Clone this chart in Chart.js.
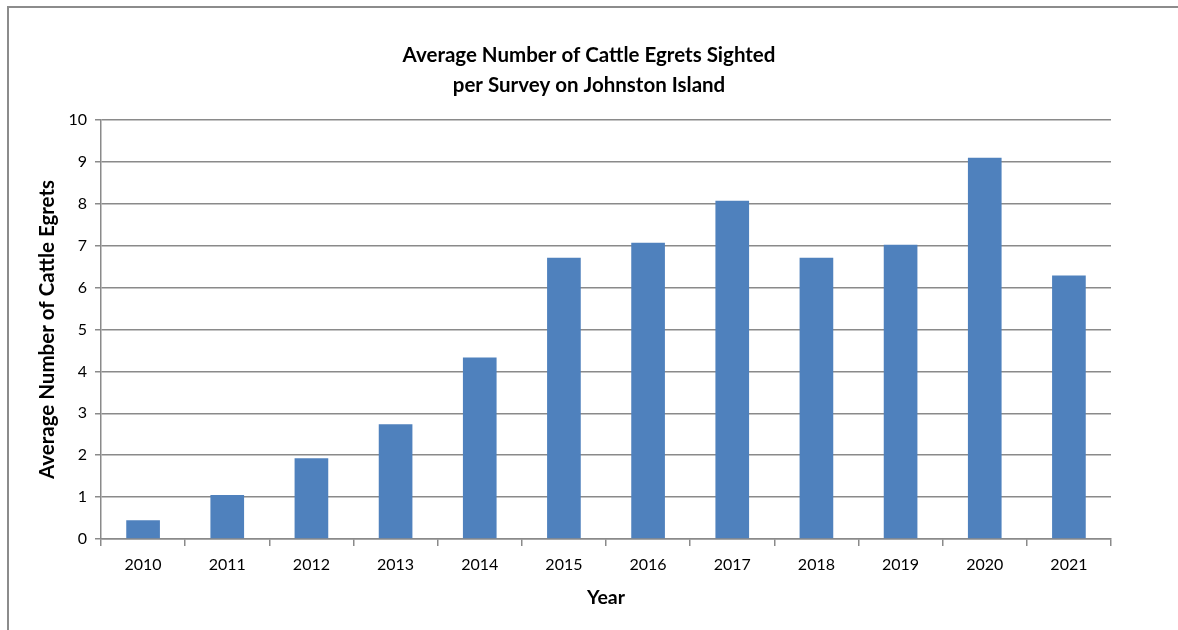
<!DOCTYPE html>
<html>
<head>
<meta charset="utf-8">
<script src="https://cdn.jsdelivr.net/npm/chart.js@4/dist/chart.umd.min.js"></script>
<style>
  html, body { margin: 0; padding: 0; background: #fff; overflow: hidden; }
  #wrap { position: relative; width: 1178px; height: 630px; }
  #frame { position: absolute; left: 7px; top: 6px; width: 1300px; height: 800px;
           border-left: 2px solid #8c8c8c; border-top: 2px solid #8c8c8c; }
  canvas { position: absolute; left: 0; top: 0; }
</style>
</head>
<body>
<div id="wrap">
  <div id="frame"></div>
  <canvas id="c" width="1178" height="630"></canvas>
</div>
<script>
const categories = ["2010","2011","2012","2013","2014","2015","2016","2017","2018","2019","2020","2021"];
const egrets = [0.45, 1.05, 1.93, 2.74, 4.33, 6.71, 7.07, 8.07, 6.71, 7.02, 9.10, 6.29];
const yTicks = [0,1,2,3,4,5,6,7,8,9,10];
const titleLines = ["Average Number of Cattle Egrets Sighted", "per Survey on Johnston Island"];
const xTitle = "Year";
const yTitle = "Average Number of Cattle Egrets";

const FONT = "Lato, 'Open Sans', sans-serif";
const GRID = "#8a8a8a";

new Chart(document.getElementById("c"), {
  type: "bar",
  data: {
    labels: categories,
    datasets: [{
      data: egrets,
      backgroundColor: "#4F81BD",
      borderWidth: 0,
      categoryPercentage: 1,
      barPercentage: 0.4
    }]
  },
  options: {
    responsive: false,
    animation: false,
    layout: { padding: { left: 0, right: 0, top: 0, bottom: 0 } },
    plugins: {
      legend: { display: false },
      tooltip: { enabled: false },
      title: {
        display: true,
        text: titleLines,
        color: "#000",
        font: { family: FONT, size: 20.5, weight: "bold", lineHeight: "30px" },
        padding: { top: 40, bottom: 20 }
      }
    },
    scales: {
      x: {
        offset: true,
        grid: { display: true, drawOnChartArea: false, drawTicks: true, tickLength: 7, color: GRID, lineWidth: 1.5, offset: true },
        border: { display: true, color: GRID, width: 1.5 },
        ticks: { color: "#000", font: { family: FONT, size: 16 }, padding: 9, maxRotation: 0 },
        title: { display: true, text: xTitle, color: "#000", font: { family: FONT, size: 19.5, weight: "bold" }, padding: { top: 4, bottom: 21 } },
        afterFit: (s) => { s.height = 91; }
      },
      y: {
        min: 0, max: 10,
        afterBuildTicks: (s) => { s.ticks = yTicks.map(v => ({ value: v })); },
        grid: { color: GRID, lineWidth: 1.5, drawTicks: true, tickLength: 6 },
        border: { display: true, color: GRID, width: 1.5 },
        ticks: { color: "#000", font: { family: FONT, size: 16 }, padding: 8 },
        title: { display: true, text: yTitle, color: "#000", font: { family: FONT, size: 20.5, weight: "bold" }, padding: { top: 35, bottom: 0 } },
        afterFit: (s) => { s.width = 101; }
      },
      yRightSpace: {
        position: "right",
        display: true,
        min: 0, max: 10,
        grid: { display: false, drawOnChartArea: false, drawTicks: false },
        border: { display: false },
        ticks: { display: false },
        title: { display: false },
        afterFit: (s) => { s.width = 67; }
      }
    }
  }
});
</script>
</body>
</html>
